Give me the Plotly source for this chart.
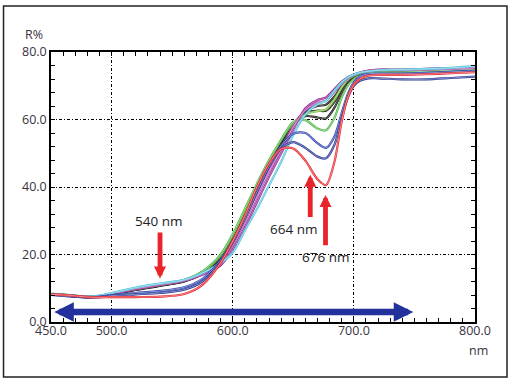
import plotly.graph_objects as go

# ---------------- data ----------------
wavelength = [450, 465, 480, 490, 500, 520, 540, 560, 575, 590, 600, 610, 620, 630, 640,
              650, 660, 670, 677, 684, 690, 695, 700, 705, 712, 720, 740, 760, 780, 800]

red = [8.2, 7.9, 7.4, 7.3, 7.4, 7.4, 7.5, 8.3, 11.0, 17.5, 24.0, 31.5, 40.0, 47.0, 51.3,
       51.4, 47.8, 42.3, 40.6, 47.5, 59.5, 66.5, 70.3, 72.0, 73.0, 73.2, 73.2, 73.4, 73.7, 74.0]
blue1 = [8.0, 7.6, 7.3, 7.4, 7.8, 8.2, 8.6, 9.6, 12.0, 17.8, 23.5, 30.5, 38.5, 46.0, 51.5,
         53.3, 51.6, 49.0, 48.5, 52.5, 60.5, 66.5, 70.0, 71.5, 72.2, 72.2, 71.9, 71.9, 72.3, 72.7]
blue2 = [8.1, 7.7, 7.3, 7.5, 8.0, 8.6, 9.2, 10.3, 12.8, 18.3, 24.0, 31.0, 39.0, 46.5, 52.2,
         55.8, 56.0, 53.0, 51.6, 55.0, 62.0, 67.5, 71.0, 72.8, 73.5, 73.6, 73.6, 73.8, 74.1, 74.4]
green1 = [8.4, 8.0, 7.5, 7.7, 8.5, 10.0, 11.2, 12.5, 15.0, 20.0, 26.0, 33.5, 41.0, 48.0, 54.0,
          59.3, 59.8, 57.3, 56.8, 60.5, 66.5, 70.0, 72.0, 73.0, 73.8, 74.0, 74.0, 74.3, 74.6, 75.0]
green2 = [8.3, 7.9, 7.5, 7.7, 8.4, 9.8, 11.0, 12.3, 14.8, 19.8, 25.7, 33.0, 40.5, 47.6, 54.0,
          59.0, 61.5, 62.5, 63.0, 66.0, 69.5, 71.8, 73.0, 73.8, 74.4, 74.6, 74.7, 74.9, 75.1, 75.4]
black1 = [8.3, 7.9, 7.5, 7.6, 8.3, 9.7, 11.0, 12.3, 14.8, 19.3, 25.2, 32.5, 40.3, 47.5, 53.3,
          58.8, 61.0, 60.6, 60.3, 63.5, 68.0, 71.0, 72.5, 73.2, 73.6, 73.8, 73.8, 74.0, 74.2, 74.4]
black2 = [8.2, 7.8, 7.4, 7.6, 8.2, 9.6, 10.8, 12.1, 14.5, 19.0, 24.6, 31.8, 39.5, 46.8, 52.8,
          58.6, 62.0, 62.6, 62.6, 65.2, 69.2, 71.6, 72.8, 73.4, 73.8, 73.9, 73.9, 74.0, 74.2, 74.4]
black3 = [8.2, 7.8, 7.4, 7.6, 8.1, 9.5, 10.7, 12.0, 14.2, 18.2, 23.5, 30.5, 38.5, 46.0, 52.3,
          58.4, 62.5, 64.0, 64.4, 66.8, 70.0, 72.0, 73.0, 73.5, 73.8, 73.9, 73.8, 73.9, 74.0, 74.2]
purple = [8.3, 7.9, 7.4, 7.6, 8.3, 9.8, 11.0, 12.2, 14.0, 16.8, 21.5, 28.0, 35.5, 43.0, 50.0,
          57.0, 63.3, 65.8, 66.5, 69.0, 71.2, 72.5, 73.3, 73.9, 74.5, 74.8, 74.8, 75.0, 75.2, 75.6]
magenta = [8.3, 7.9, 7.5, 7.7, 8.4, 9.9, 11.1, 12.3, 14.3, 17.8, 22.8, 29.7, 37.2, 44.6, 51.0,
           57.8, 62.8, 65.0, 65.6, 68.2, 70.6, 72.2, 73.2, 73.8, 74.4, 74.6, 74.6, 74.8, 75.0, 75.3]
cyan = [8.3, 7.9, 7.5, 7.8, 8.6, 10.2, 11.4, 12.5, 14.5, 17.5, 20.5, 27.0, 33.5, 40.5, 47.5,
        55.5, 61.5, 64.5, 65.5, 68.5, 71.0, 72.5, 73.3, 73.9, 74.3, 74.6, 74.8, 75.0, 75.3, 75.8]

x_ticks = [450, 500, 600, 700, 800]
x_ticklabels = ["450.0", "500.0", "600.0", "700.0", "800.0"]
y_ticks = [0, 20, 40, 60, 80]
y_ticklabels = ["0.0", "20.0", "40.0", "60.0", "80.0"]

marked_nm = [540, 664, 676]
marked_labels = ["540 nm", "664 nm", "676 nm"]

# ---------------- styles ----------------
series = [
    ("black1", black1, "#231f20", "#8a8686"),
    ("black2", black2, "#231f20", "#8a8686"),
    ("black3", black3, "#231f20", "#8a8686"),
    ("green2", green2, "#7cc242", "#cfe9b5"),
    ("green1", green1, "#4fb848", "#bfe5bb"),
    ("purple", purple, "#92278f", "#d9a9d8"),
    ("magenta", magenta, "#b94fb3", "#e6bfe3"),
    ("cyan", cyan, "#55c4dc", "#c4ebf4"),
    ("blue2", blue2, "#3346b0", "#b3bce6"),
    ("blue1", blue1, "#2b3990", "#aab0dc"),
    ("red", red, "#e8242a", "#f7b9bb"),
]

fig = go.Figure()
for name, ys, col, inner in series:
    fig.add_trace(go.Scatter(x=wavelength, y=ys, mode="lines", name=name,
                             line=dict(color=col, width=2.2, shape="spline", smoothing=0.8),
                             showlegend=False, hoverinfo="skip"))
    fig.add_trace(go.Scatter(x=wavelength, y=ys, mode="lines", name=name + "_c",
                             line=dict(color=inner, width=0.7, shape="spline", smoothing=0.8),
                             showlegend=False, hoverinfo="skip"))

tick_font = dict(family="Open Sans, DejaVu Sans, sans-serif", size=12.5, color="#3a3340")
grid_dash = "3px,2px,1px,2px"

fig.update_layout(
    xaxis=dict(range=[450, 800], tickvals=x_ticks, ticktext=x_ticklabels,
               ticks="inside", ticklen=4, tickcolor="black", tickwidth=1,
               showgrid=True, gridcolor="black", gridwidth=1, griddash=grid_dash,
               showline=True, linecolor="black", linewidth=1.5, mirror=True,
               minor=dict(dtick=10, tick0=450, ticks="inside", ticklen=4,
                          tickcolor="black", showgrid=False),
               tickfont=tick_font, ticklabelstandoff=-4, zeroline=False, fixedrange=True),
    yaxis=dict(range=[0, 80], tickvals=y_ticks, ticktext=y_ticklabels,
               ticks="inside", ticklen=4, tickcolor="black", tickwidth=1,
               showgrid=True, gridcolor="black", gridwidth=1, griddash=grid_dash,
               showline=True, linecolor="black", linewidth=1.5, mirror=True,
               minor=dict(dtick=4, tick0=0, ticks="inside", ticklen=4,
                          tickcolor="black", showgrid=False),
               tickfont=tick_font, zeroline=False, fixedrange=True),
    # tick-only axes on the top and right edges
    xaxis2=dict(range=[450, 800], overlaying="x", side="top", tickvals=x_ticks,
                showticklabels=False, ticks="inside", ticklen=4, tickcolor="black",
                minor=dict(dtick=10, tick0=450, ticks="inside", ticklen=4, tickcolor="black"),
                showgrid=False, zeroline=False, showline=False, fixedrange=True),
    yaxis2=dict(range=[0, 80], overlaying="y", side="right", tickvals=y_ticks,
                showticklabels=False, ticks="inside", ticklen=4, tickcolor="black",
                minor=dict(dtick=4, tick0=0, ticks="inside", ticklen=4, tickcolor="black"),
                showgrid=False, zeroline=False, showline=False, fixedrange=True),
)
# invisible anchor trace so the edge axes are drawn
fig.add_trace(go.Scatter(x=[450], y=[0], xaxis="x2", yaxis="y2", mode="markers",
                         marker=dict(opacity=0), showlegend=False, hoverinfo="skip"))

ann_font = dict(family="Open Sans, DejaVu Sans, sans-serif", size=13.5, color="#222")
annotations = []
red_arrows = [(marked_nm[0], 12.9, 27.0), (marked_nm[1], 43.6, 30.7), (marked_nm[2] + 0.6, 37.6, 22.3)]
for xa, tip, base in red_arrows:
    annotations.append(dict(x=xa, y=tip, ax=xa, ay=base, xref="x", yref="y", axref="x", ayref="y",
                            text="", showarrow=True, arrowhead=2, arrowsize=0.5,
                            arrowwidth=4.8, arrowcolor="#e8242a", standoff=0))
label_pos = [(539, 30.0), (650.5, 27.5), (676.6, 19.2)]
for (lx, ly), txt in zip(label_pos, marked_labels):
    annotations.append(dict(x=lx, y=ly, xref="x", yref="y", text=txt, showarrow=False,
                            font=ann_font, xanchor="center", yanchor="middle"))
annotations.append(dict(x=749, y=3.0, ax=451.5, ay=3.0, xref="x", yref="y", axref="x", ayref="y",
                        text="", showarrow=True, arrowhead=2, startarrowhead=2, arrowside="end+start",
                        arrowsize=0.6, startarrowsize=0.6, arrowwidth=6.5,
                        arrowcolor="#22319c", standoff=0, startstandoff=0))
annotations.append(dict(x=0, y=1, xref="paper", yref="paper", text="R%", showarrow=False,
                        xanchor="right", yanchor="bottom", xshift=-6, yshift=7, font=tick_font))
annotations.append(dict(x=1, y=0, xref="paper", yref="paper", text="nm", showarrow=False,
                        xanchor="center", yanchor="top", xshift=3, yshift=-18, font=tick_font))

fig.update_layout(
    width=513, height=383,
    margin=dict(l=51, r=38, t=52, b=61),
    paper_bgcolor="white", plot_bgcolor="white",
    annotations=annotations,
    shapes=[dict(type="rect", xref="paper", yref="paper", x0=-0.112, x1=1.0755,
                 y0=-0.2037, y1=1.1704, line=dict(color="#222", width=1.5), layer="below")],
    showlegend=False,
)

fig.write_html("out.html", config={"displayModeBar": False},
               post_script="document.body.style.margin='0';document.body.style.padding='0';")
